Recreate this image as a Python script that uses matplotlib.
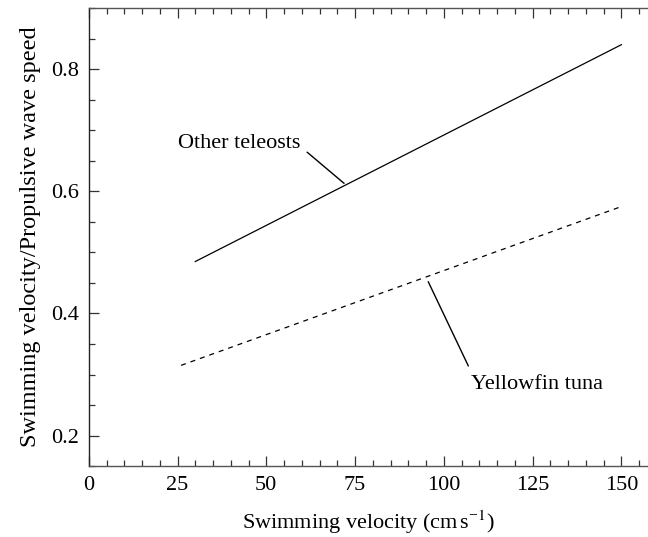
import matplotlib
matplotlib.use('Agg')
import matplotlib.pyplot as plt
from matplotlib.ticker import MultipleLocator

# valores
teleost_x = [30, 150]
teleost_y = [0.485, 0.84]
tuna_x = [26, 150]
tuna_y = [0.315, 0.575]
x_ticks = [0, 25, 50, 75, 100, 125, 150]
y_ticks = [0.2, 0.4, 0.6, 0.8]

plt.rcParams['font.family'] = ['Liberation Serif', 'DejaVu Serif']
plt.rcParams['mathtext.fontset'] = 'stix'
plt.rcParams['font.size'] = 16

fig = plt.figure(figsize=(6.48, 5.37), dpi=100)
ax = fig.add_axes([0.137, 0.132, 0.863, 0.853])

ax.plot(teleost_x, teleost_y, color='black', lw=0.9)
ax.plot(tuna_x, tuna_y, color='black', lw=0.9, linestyle=(0, (4, 4)))

# rótulos com linhas de chamada
ax.text(59.5, 0.679, 'Other teleosts', ha='right', va='center', fontsize=16)
ax.annotate('', xy=(71.9, 0.613), xytext=(61.5, 0.664),
            arrowprops=dict(arrowstyle='-', color='black', lw=1.0,
                            shrinkA=0, shrinkB=0))
ax.text(107.6, 0.284, 'Yellowfin tuna', ha='left', va='center', fontsize=16)
ax.annotate('', xy=(95.6, 0.452), xytext=(106.9, 0.314),
            arrowprops=dict(arrowstyle='-', color='black', lw=1.0,
                            shrinkA=0, shrinkB=0))

ax.set_xlim(0, 157.5)
ax.set_ylim(0.15, 0.9)
ax.set_xticks(x_ticks)
ax.set_yticks(y_ticks)
ax.set_xticklabels([str(t) for t in x_ticks])
ax.set_yticklabels(['%.1f' % t for t in y_ticks])
ax.xaxis.set_minor_locator(MultipleLocator(5))
ax.yaxis.set_minor_locator(MultipleLocator(0.05))
ax.tick_params(which='both', direction='in', top=True, right=False,
               labelsize=16, width=0.9, color='#333333', pad=7)
ax.tick_params(which='major', length=7)
ax.tick_params(which='minor', length=4)

ax.spines['right'].set_visible(False)
ax.spines['left'].set_color('#222222')
for s in ['bottom', 'top']:
    ax.spines[s].set_color('#555555')
for s in ['left', 'bottom', 'top']:
    ax.spines[s].set_linewidth(1.0)

ax.set_xlabel('Swimming velocity (cm$\\,$s$^{\\mathregular{\u2212}1}$)', fontsize=16, labelpad=10)
ax.set_ylabel('Swimming velocity/Propulsive wave speed', fontsize=17.5, labelpad=7)

fig.savefig('out.png', dpi=100)
